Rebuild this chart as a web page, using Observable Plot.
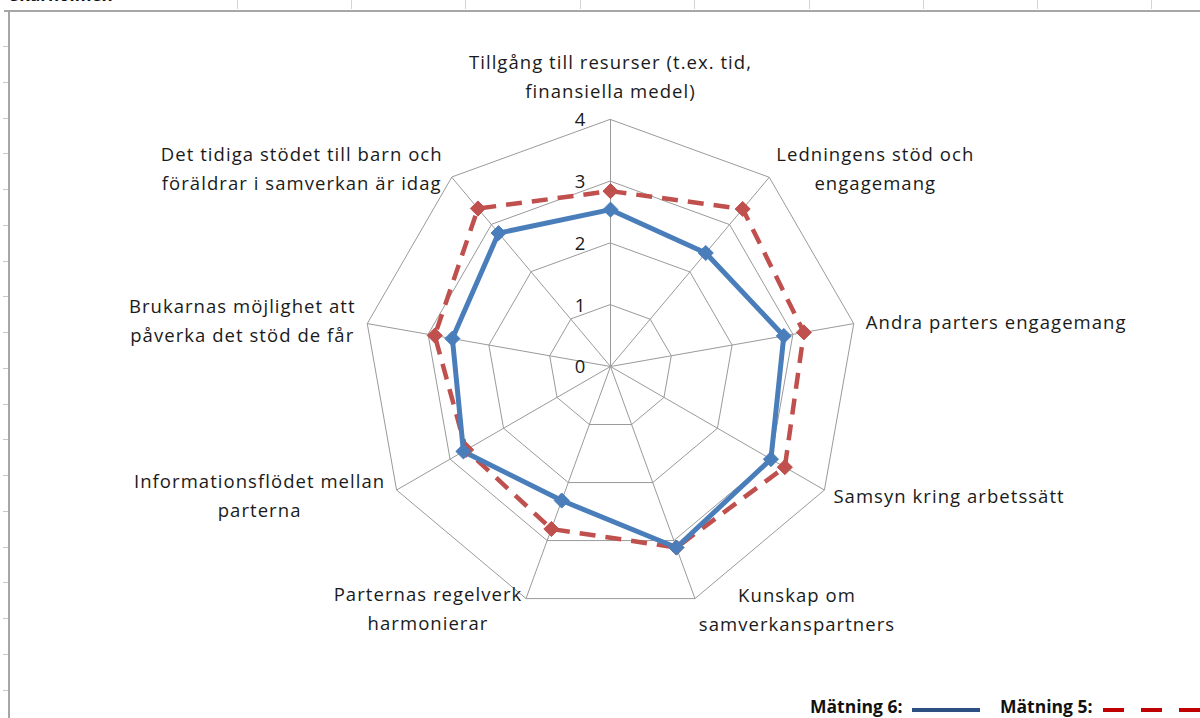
<!DOCTYPE html>
<html>
<head>
<meta charset="utf-8">
<script src="https://cdn.jsdelivr.net/npm/d3@7"></script>
<script src="https://cdn.jsdelivr.net/npm/@observablehq/plot@0.6"></script>
<style>
  html, body { margin: 0; padding: 0; background: #fff; }
  #wrap { position: relative; width: 1200px; height: 718px; overflow: hidden; background: #fff; }
  #chart { position: absolute; left: 0; top: 0; }
  .deco { position: absolute; }
  #legend { position: absolute; left: 0; top: 690px; width: 1200px; height: 28px; }
</style>
</head>
<body>
<div id="wrap">
  <div id="chart"></div>
  <div id="sheet"></div>
  <svg id="legend" width="1200" height="28"></svg>
</div>
<script>
// ---- data ----
const categories = [
  "Tillgång till resurser (t.ex. tid,\nfinansiella medel)",
  "Ledningens stöd och\nengagemang",
  "Andra parters engagemang",
  "Samsyn kring arbetssätt",
  "Kunskap om\nsamverkanspartners",
  "Parternas regelverk\nharmonierar",
  "Informationsflödet mellan\nparterna",
  "Brukarnas möjlighet att\npåverka det stöd de får",
  "Det tidiga stödet till barn och\nföräldrar i samverkan är idag"
];
const matning6 = [2.54, 2.40, 2.85, 3.00, 3.12, 2.31, 2.75, 2.60, 2.82];
const matning5 = [2.84, 3.33, 3.18, 3.26, 3.12, 2.80, 2.70, 2.89, 3.34];
const rings = [0, 1, 2, 3, 4];
const legendLabels = ["Mätning 6:", "Mätning 5:"];

// ---- layout ----
const W = 1200, H = 690;
const cx = 610, cy = 366, k = 61.75; // px per unit
const n = categories.length;
const ang = i => (i * 2 * Math.PI) / n;
const px = (v, i) => v * Math.sin(ang(i));
const py = (v, i) => v * Math.cos(ang(i));

const gridPts = [];
for (const r of rings.slice(1)) for (let i = 0; i < n; i++) gridPts.push({r, i, x: px(r, i), y: py(r, i)});
const spokes = categories.map((c, i) => ({i, x2: px(4, i), y2: py(4, i)}));
const s6 = matning6.map((v, i) => ({i, x: px(v, i), y: py(v, i)}));
const s5 = matning5.map((v, i) => ({i, x: px(v, i), y: py(v, i)}));

const labelLayout = [
  {anchor: "middle", dx: 0, dy: -45},
  {anchor: "middle", dx: 106, dy: -11},
  {anchor: "start", dx: 12, dy: -4},
  {anchor: "start", dx: 9, dy: 4},
  {anchor: "middle", dx: 102, dy: 9},
  {anchor: "middle", dx: -98, dy: 8},
  {anchor: "middle", dx: -137, dy: 3},
  {anchor: "middle", dx: -125, dy: -5},
  {anchor: "middle", dx: -150, dy: -11}
];

const gridColor = "#9a9a9a";
const blue = "#4a7ebb";
const red = "#c0504d";

const labelMarks = categories.map((c, i) => Plot.text([{c, i}], {
  x: d => px(4, d.i), y: d => py(4, d.i), text: d => d.c,
  textAnchor: labelLayout[i].anchor, dx: labelLayout[i].dx, dy: labelLayout[i].dy,
  lineAnchor: "middle", lineHeight: 1.57, fill: "#1a1a1a"
}));

const chart = Plot.plot({
  width: W, height: H,
  margin: 0,
  x: {domain: [-cx / k, (W - cx) / k], axis: null},
  y: {domain: [-(H - cy) / k, cy / k], axis: null},
  style: {fontFamily: "'Open Sans', sans-serif", fontSize: "18.5px", letterSpacing: "1.05px", background: "transparent", overflow: "visible"},
  marks: [
    Plot.line(gridPts, {x: "x", y: "y", z: "r", curve: "linear-closed", stroke: gridColor, strokeWidth: 1}),
    Plot.link(spokes, {x1: () => 0, y1: () => 0, x2: "x2", y2: "y2", stroke: gridColor, strokeWidth: 1}),
    Plot.line(s5, {x: "x", y: "y", curve: "linear-closed", stroke: red, strokeWidth: 4.5, strokeDasharray: "16,10", strokeLinecap: "butt"}),
    Plot.line(s6, {x: "x", y: "y", curve: "linear-closed", stroke: blue, strokeWidth: 5, strokeLinejoin: "round"}),
    Plot.dot(s5, {x: "x", y: "y", symbol: "diamond2", r: 6.8, fill: red, stroke: red, strokeWidth: 1}),
    Plot.dot(s6, {x: "x", y: "y", symbol: "diamond2", r: 6.8, fill: blue, stroke: blue, strokeWidth: 1}),
    Plot.text(rings, {x: () => 0, y: d => d, text: d => String(d), dx: -30, dy: 1, fill: "#1a1a1a"}),
    ...labelMarks
  ]
});
document.getElementById("chart").appendChild(chart);

// ---- spreadsheet frame decoration ----
const sheet = document.getElementById("sheet");
function box(l, t, w, h, bg) {
  const d = document.createElement("div");
  d.className = "deco";
  Object.assign(d.style, {left: l + "px", top: t + "px", width: w + "px", height: h + "px", background: bg});
  sheet.appendChild(d);
}
box(0, 0, 1200, 10, "#fff");
[237, 351, 465, 580, 694, 809, 923, 1037, 1151].forEach(x => box(x, 0, 1, 9, "#d4d4d4"));
box(4, 10, 1196, 2, "#a6a6a6");
box(8, 10, 2, 708, "#a6a6a6");
for (let y = 46; y < 718; y += 35.75) box(3, Math.round(y), 5, 1, "#c8c8c8");
const title = document.createElement("div");
title.className = "deco";
Object.assign(title.style, {left: "10px", top: "-14px", font: "bold 17px 'Open Sans', sans-serif", color: "#111", lineHeight: "17px"});
title.textContent = "Skärholmen";
sheet.appendChild(title);

// ---- legend ----
const lg = d3.select("#legend");
const ly = 23; // baseline
lg.append("text").attr("x", 810).attr("y", ly).text(legendLabels[0])
  .attr("font-family", "'Open Sans', sans-serif").attr("font-weight", "bold").attr("font-size", 17.5).attr("fill", "#111");
lg.append("line").attr("x1", 912).attr("x2", 980).attr("y1", 20).attr("y2", 20)
  .attr("stroke", "#2a4f80").attr("stroke-width", 4);
lg.append("text").attr("x", 1000).attr("y", ly).text(legendLabels[1])
  .attr("font-family", "'Open Sans', sans-serif").attr("font-weight", "bold").attr("font-size", 17.5).attr("fill", "#111");
lg.append("line").attr("x1", 1103).attr("x2", 1200).attr("y1", 20).attr("y2", 20)
  .attr("stroke", "#c00000").attr("stroke-width", 4).attr("stroke-dasharray", "21,17");
</script>
</body>
</html>
